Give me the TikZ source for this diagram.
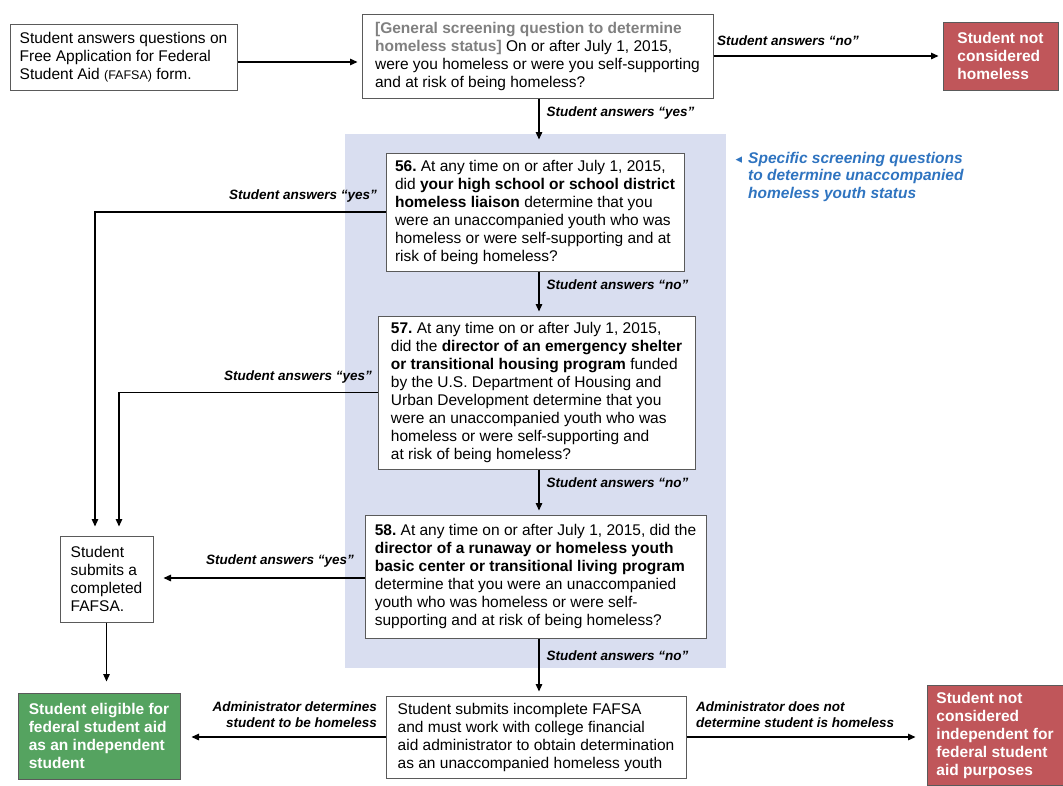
\documentclass[tikz,border=0pt]{standalone}
\usepackage{fontspec}
\setmainfont{Liberation Sans}
\newfontfamily\symfont{DejaVu Sans}
\usepackage{xcolor}
\usepackage{tikz}
\usetikzlibrary{calc,arrows.meta,positioning}
\definecolor{screenBlue}{RGB}{217,222,240}
\definecolor{noteBlue}{RGB}{47,116,192}
\definecolor{denyRed}{RGB}{192,86,90}
\definecolor{okGreen}{RGB}{85,163,96}
\definecolor{boxgray}{RGB}{90,90,90}
\definecolor{taggray}{RGB}{128,128,128}
\frenchspacing
\tikzset{
  qbox/.style={draw=boxgray, line width=1pt, fill=white, align=left, inner sep=0pt,
    font=\fontsize{15.5}{18}\selectfont},
  outbox/.style={qbox, text=white, font=\fontsize{15.5}{18}\selectfont\bfseries},
  lbl/.style={font=\fontsize{13.5}{16}\selectfont\bfseries\itshape, inner sep=0pt},
  flow/.style={line width=1.3pt, -{Triangle[length=7.5pt,width=6.5pt]}, shorten >=4pt}
}

\begin{document}
\begin{tikzpicture}[x=1pt, y=-1pt]
\useasboundingbox (0,0) rectangle (1063,785);
\fill[screenBlue] (345,134) rectangle (726,668);

\node[qbox, minimum width=227pt, minimum height=66pt] (start) at (123.5,57)
  {Student answers questions on\\Free Application for Federal\\Student Aid {\fontsize{12.5}{18}\selectfont(FAFSA)} form.};
\node[qbox, minimum width=351pt, minimum height=84pt] (general) at (537.5,56)
  {\textcolor{taggray}{\textbf{[General screening question to determine}}\\\textcolor{taggray}{\textbf{homeless status]}} On or after July 1, 2015,\\were you homeless or were you self-supporting\\and at risk of being homeless?};
\node[outbox, fill=denyRed, minimum width=115pt, minimum height=68pt] (nothomeless) at (1000.5,56)
  {Student not\\considered\\homeless};

\node[qbox, minimum width=298pt, minimum height=118pt] (q56) at (535,212)
  {\textbf{56.} At any time on or after July 1, 2015,\\did \textbf{your high school or school district}\\\textbf{homeless liaison} determine that you\\were an unaccompanied youth who was\\homeless or were self-supporting and at\\risk of being homeless?};
\node[qbox, minimum width=317pt, minimum height=153pt] (q57) at (536.5,392.5)
  {\textbf{57.} At any time on or after July 1, 2015,\\did the \textbf{director of an emergency shelter}\\\textbf{or transitional housing program} funded\\by the U.S. Department of Housing and\\Urban Development determine that you\\were an unaccompanied youth who was\\homeless or were self-supporting and\\at risk of being homeless?};
\node[qbox, minimum width=341pt, minimum height=123pt] (q58) at (535.5,576.5)
  {\textbf{58.} At any time on or after July 1, 2015, did the\\\textbf{director of a runaway or homeless youth}\\\textbf{basic center or transitional living program}\\determine that you were an unaccompanied\\youth who was homeless or were self-\\supporting and at risk of being homeless?};

\node[anchor=north west, inner sep=0pt, align=left, text=noteBlue,
  font=\fontsize{15.5}{17.5}\selectfont\bfseries\itshape] (note) at (748,152)
  {\llap{{\symfont\fontsize{13}{13}\selectfont ◂}\hspace{6pt}}Specific screening questions\\to determine unaccompanied\\homeless youth status};

\node[qbox, minimum width=93pt, minimum height=86pt] (completed) at (106.5,579)
  {Student\\submits a\\completed\\FAFSA.};
\node[outbox, fill=okGreen, minimum width=162pt, minimum height=86pt] (eligible) at (99,736)
  {Student eligible for\\federal student aid\\as an independent\\student};
\node[qbox, minimum width=300pt, minimum height=82pt] (incomplete) at (536,737)
  {Student submits incomplete FAFSA\\and must work with college financial\\aid administrator to obtain determination\\as an unaccompanied homeless youth};
\node[outbox, fill=denyRed, minimum width=136pt, minimum height=100pt] (notindep) at (995,735)
  {Student not\\considered\\independent for\\federal student\\aid purposes};

\draw[flow] ([yshift=-5pt]start.east) -- ([yshift=-5pt]start.east -| general.west);
\draw[flow] (general.east) -- (nothomeless.west)
  node[lbl, anchor=south west, pos=0, xshift=3pt, yshift=10pt] {Student answers ``no''};
\draw[flow, shorten >=13pt] ([xshift=1.5pt]general.south) -- ([xshift=1.5pt]general.south |- q56.north)
  node[lbl, right, pos=0.27, xshift=7pt] {Student answers ``yes''};

\foreach \a/\b in {q56/q57,q57/q58,q58/incomplete}
{
    \draw[flow] ([xshift=1.5pt]\a.south -| general.south) -- ([xshift=1.5pt]\b.north -| general.south)
      node[lbl, right, pos=0.3, xshift=7pt] {Student answers ``no''};
}

\draw[flow, shorten >=9pt] (q56.west) -| ([xshift=-11.5pt]completed.north)
  node[lbl, anchor=south east, pos=0, xshift=-8pt, yshift=9pt] {Student answers ``yes''};
\draw[flow, shorten >=9pt] (q57.west) -| ([xshift=12.5pt]completed.north)
  node[lbl, anchor=south east, pos=0, xshift=-5pt, yshift=9pt] {Student answers ``yes''};
\draw[flow, shorten >=10pt] ([yshift=-1.5pt]q58.west) -- ([yshift=-1.5pt]q58.west -| completed.east)
  node[lbl, anchor=south east, pos=0, xshift=-10pt, yshift=10pt] {Student answers ``yes''};
\draw[flow, shorten >=11pt] (completed.south) -- (completed.south |- eligible.north);

\draw[flow, shorten >=11pt] (incomplete.west) -- (incomplete.west -| eligible.east)
  node[lbl, anchor=south east, pos=0, align=right, xshift=-8pt, yshift=9pt] {Administrator determines\\student to be homeless};
\draw[flow, shorten >=11pt] (incomplete.east) -- (incomplete.east -| notindep.west)
  node[lbl, anchor=south west, pos=0, align=left, xshift=9pt, yshift=9pt] {Administrator does not\\determine student is homeless};
\end{tikzpicture}
\end{document}
